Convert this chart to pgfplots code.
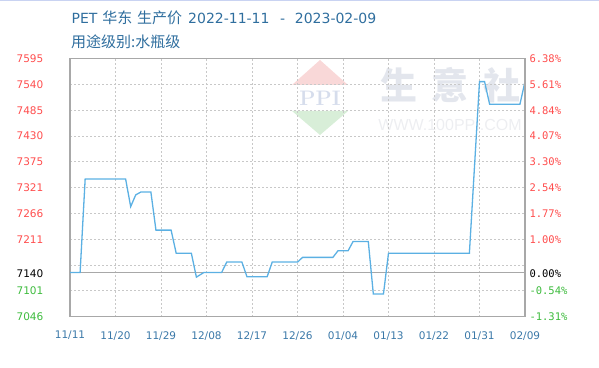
\documentclass[border=0pt]{standalone}
\usepackage{fontspec}
\usepackage{pgfplots}
\usepackage{pgfplotstable}
\pgfplotsset{compat=1.18}

\newfontfamily\cjk{Noto Sans CJK SC}
\newfontfamily\tickfont{DejaVu Sans}
\newfontfamily\monofont{DejaVu Sans Mono}
\newfontfamily\wmfont{Liberation Sans}

\definecolor{titleblue}{HTML}{2F6E9E}
\definecolor{upred}{HTML}{FF4D4D}
\definecolor{downgreen}{HTML}{3DBB3D}
\definecolor{lineblue}{HTML}{5BB0E3}
\definecolor{gridgray}{HTML}{C8C8C8}
\definecolor{framegray}{HTML}{A8A8A8}
\definecolor{xlabblue}{HTML}{3A78A8}
\definecolor{wmred}{HTML}{F9D8D8}
\definecolor{wmgreen}{HTML}{D8EED8}
\definecolor{wmblue}{HTML}{D6DDEC}
\definecolor{wmgray}{HTML}{E3E6ED}
\definecolor{wmlight}{HTML}{EDEEF1}
\definecolor{topline}{HTML}{C9D3F2}

% PET ex-factory price, East China (yuan/t); day 0 = 2022-11-11
\pgfplotstableread{
day price
0 7140
2 7140
3 7339
11 7339
12 7280
13 7305
14 7311
16 7311
17 7230
20 7230
21 7181
24 7181
25 7130
26.5 7140
30 7140
31 7162
34 7162
35 7131
39 7131
40 7162
45 7162
46 7172
52 7172
53 7186
55 7186
56 7206
59 7206
60 7094
62 7094
63 7181
79 7181
81 7546
82 7546
83 7498
89 7498
90 7546
}\pricedata

\begin{document}
\begin{tikzpicture}
\path[use as bounding box] (0pt,0pt) rectangle (599pt,367pt);
\draw[topline, line width=1.2pt] (0pt,366.4pt) -- (599pt,366.4pt);

% title line, set piece by piece
\begin{scope}[every node/.style={anchor=base west, inner sep=0pt, text=titleblue}]
\node[font=\tickfont\fontsize{14}{16}\selectfont] at (71.5pt,343pt) {PET};
\node[font=\cjk\fontsize{15}{17}\selectfont] at (102.2pt,343pt) {华东};
\node[font=\cjk\fontsize{15}{17}\selectfont] at (137pt,343pt) {生产价};
\node[font=\tickfont\fontsize{14}{16}\selectfont] at (188pt,343pt) {2022-11-11};
\node[font=\tickfont\fontsize{14}{16}\selectfont] at (280pt,343pt) {-};
\node[font=\tickfont\fontsize{14}{16}\selectfont] at (294.7pt,343pt) {2023-02-09};
\end{scope}
\node[anchor=west, inner sep=0pt, text=titleblue, font=\cjk\fontsize{15}{17}\selectfont]
  at (71pt,325pt) {用途级别:水瓶级};

% watermark
\fill[wmred] (320pt,307pt) -- (348pt,282pt) -- (292pt,282pt) -- cycle;
\fill[wmgreen] (292pt,256pt) -- (348pt,256pt) -- (320pt,232pt) -- cycle;
\node[text=wmblue, font=\fontsize{21}{22}\selectfont\bfseries] at (320pt,269pt) {PPI};
\node[text=wmgray, font=\cjk\bfseries\fontsize{37}{40}\selectfont] at (398.5pt,282pt) {生};
\node[text=wmgray, font=\cjk\bfseries\fontsize{37}{40}\selectfont] at (449.5pt,282pt) {意};
\node[text=wmgray, font=\cjk\bfseries\fontsize{37}{40}\selectfont] at (501.5pt,282pt) {社};
\node[text=wmlight, font=\wmfont\fontsize{16}{18}\selectfont] at (450pt,242pt) {WWW.100PPI.COM};

\begin{axis}[
  at={(70pt,50.4pt)}, anchor=south west,
  width=455pt, height=258pt, scale only axis,
  xmin=0, xmax=90, ymin=7046, ymax=7595,
  xtick={0,9,...,90},
  xticklabels={11/11,11/20,11/29,12/08,12/17,12/26,01/04,01/13,01/22,01/31,02/09},
  xticklabel style={font=\tickfont\fontsize{10.5}{12}\selectfont, text=xlabblue,
    anchor=center, inner sep=0pt, yshift=-19pt},
  ytick={7046,7100.9,7155.8,7210.7,7265.6,7320.5,7375.4,7430.3,7485.2,7540.1,7595},
  yticklabels={{\textcolor{downgreen}{7046}},{\textcolor{downgreen}{7101}},{},
    {\textcolor{upred}{7211}},{\textcolor{upred}{7266}},{\textcolor{upred}{7321}},
    {\textcolor{upred}{7375}},{\textcolor{upred}{7430}},{\textcolor{upred}{7485}},
    {\textcolor{upred}{7540}},{\textcolor{upred}{7595}}},
  yticklabel style={font=\tickfont\fontsize{10.5}{12}\selectfont, anchor=east,
    inner sep=0pt, xshift=-26.5pt},
  extra y ticks={7140},
  extra y tick labels={{\textcolor{black}{7140}}},
  extra y tick style={grid=major, major grid style={solid, framegray, line width=1pt},
    yticklabel style={yshift=-1pt}},
  grid=major,
  major grid style={gridgray, line width=0.7pt, dash pattern=on 2pt off 2pt},
  major tick length=0pt,
  axis line style={framegray, line width=1.3pt},
  clip=false,
]
\addplot[lineblue, line width=1.3pt] table[x=day, y=price] {\pricedata};
\end{axis}

% percent change against 7140 on the right
\begin{axis}[
  at={(70pt,50.4pt)}, anchor=south west,
  width=455pt, height=258pt, scale only axis,
  xmin=0, xmax=90, ymin=7046, ymax=7595,
  axis x line=none, axis y line*=right,
  ytick={7046,7100.9,7155.8,7210.7,7265.6,7320.5,7375.4,7430.3,7485.2,7540.1,7595},
  yticklabels={{\textcolor{downgreen}{-1.31\%}},{\textcolor{downgreen}{-0.54\%}},{},
    {\textcolor{upred}{1.00\%}},{\textcolor{upred}{1.77\%}},{\textcolor{upred}{2.54\%}},
    {\textcolor{upred}{3.30\%}},{\textcolor{upred}{4.07\%}},{\textcolor{upred}{4.84\%}},
    {\textcolor{upred}{5.61\%}},{\textcolor{upred}{6.38\%}}},
  extra y ticks={7140},
  extra y tick labels={{\textcolor{black}{0.00\%}}},
  extra y tick style={yticklabel style={yshift=-1pt}},
  yticklabel style={font=\monofont\fontsize{10.5}{12}\selectfont, anchor=west,
    inner sep=0pt, xshift=4.3pt},
  major tick length=0pt,
  axis line style={framegray, line width=1.3pt},
]
\end{axis}
\end{tikzpicture}
\end{document}
